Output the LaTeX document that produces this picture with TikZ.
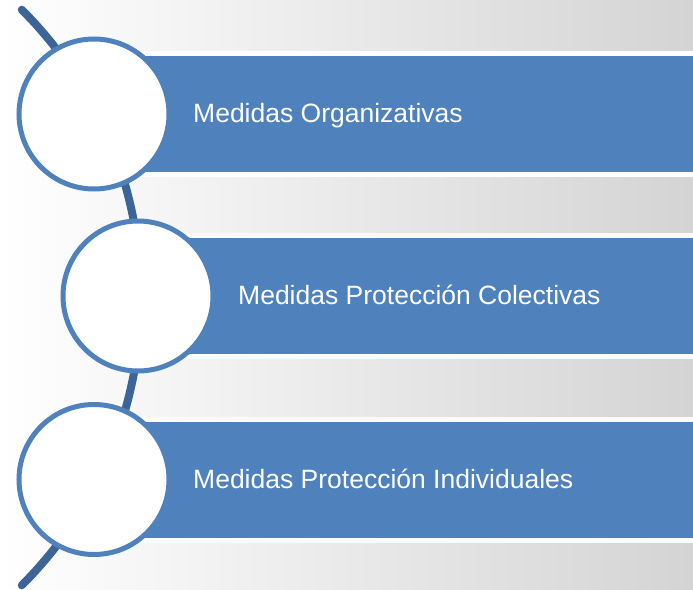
\documentclass[tikz,border=0pt]{standalone}
\usepackage{fontspec}
\setmainfont{Liberation Sans}
\usetikzlibrary{positioning}

\definecolor{barblue}{HTML}{4F81BD}
\definecolor{spineblue}{HTML}{3C6497}
\definecolor{bggray}{HTML}{D4D4D4}

\tikzset{
    bar/.style={rectangle, fill=barblue, draw=white, line width=5pt, inner sep=0pt,
        minimum height=121pt, anchor=west},
    bead/.style={circle, fill=white, draw=barblue, line width=5pt, inner sep=0pt,
        minimum size=150pt},
    label text/.style={text=white, anchor=base west, inner sep=0pt,
        font=\fontsize{26.5}{30}\selectfont},
    spine/.style={spineblue, line width=8pt, line cap=round}
}

\begin{document}
\begin{tikzpicture}[x=1pt, y=1pt]
% Define radius of the spine
\def\R{407}

% Background
\useasboundingbox (0,0) rectangle (693,-589);
\shade[left color=white, right color=bggray] (0,0) rectangle (693,-589);

% Spine
\coordinate (spine-top) at ({-266+\R*cos(45)}, {-297.5+\R*sin(45)});
\draw[spine] (spine-top) arc[start angle=45, end angle=-45, radius=\R];

% Bars
\node[bar, minimum width=601pt] (bar1) at (94,-114) {};
\node[bar, minimum width=557pt] (bar2) at (138,-296) {};
\node[bar, minimum width=601pt] (bar3) at (94,-479.5) {};

% Circles
\node[bead] (circ1) at (bar1.west) {};
\node[bead] (circ2) at (bar2.west) {};
\node[bead] (circ3) at (bar3.west) {};

% Labels
\node[label text] (txt1) at (193,-122.5) {Medidas Organizativas};
\node[label text] (txt2) at (238,-304.5) {Medidas Protección Colectivas};
\node[label text] (txt3) at (193,-488) {Medidas Protección Individuales};
\end{tikzpicture}
\end{document}
